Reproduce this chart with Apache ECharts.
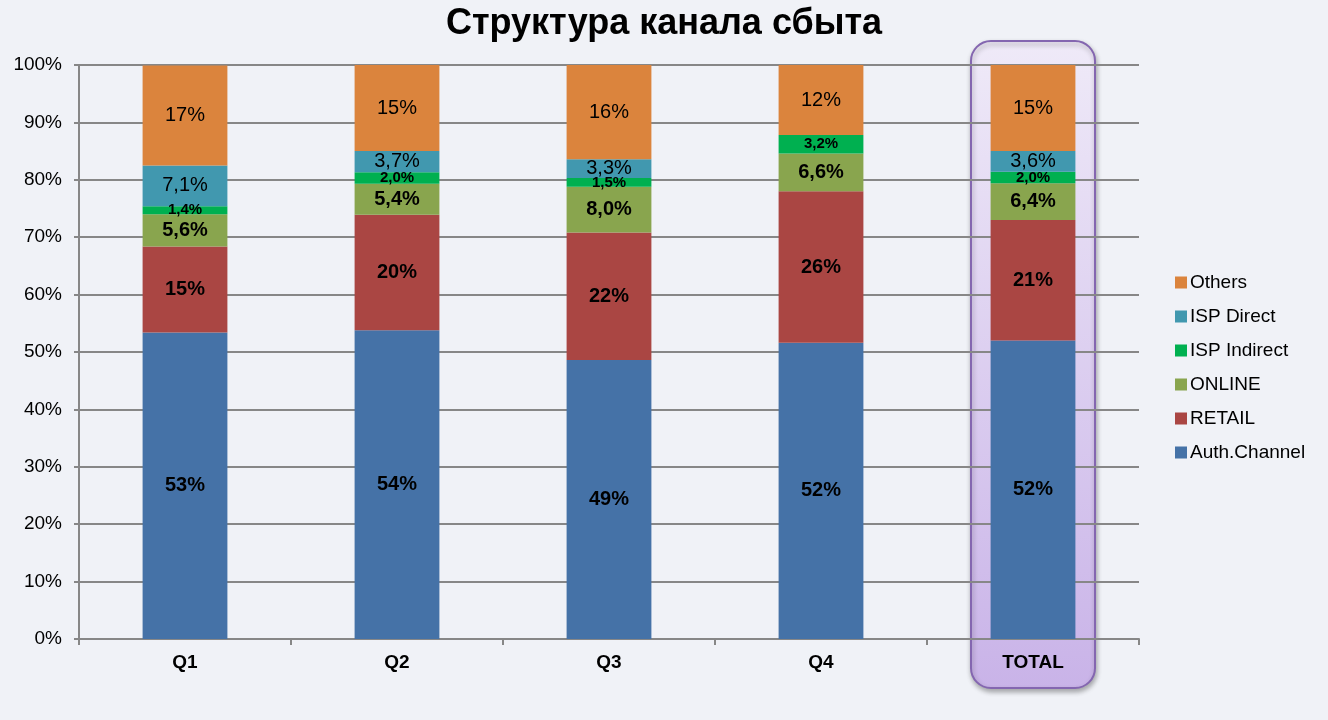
<!DOCTYPE html>
<html>
<head>
<meta charset="utf-8">
<script src="https://cdn.jsdelivr.net/npm/echarts@6/dist/echarts.min.js"></script>
<style>
html,body{margin:0;padding:0;background:#f0f2f7;}
#c{width:1328px;height:720px;}
</style>
</head>
<body>
<div id="c"></div>
<script>
const categories = ['Q1', 'Q2', 'Q3', 'Q4', 'TOTAL'];
const authChannel = [53.4, 53.8, 48.6, 51.6, 52.0];
const retail      = [15.0, 20.1, 22.2, 26.4, 21.0];
const online      = [5.6, 5.4, 8.0, 6.6, 6.4];
const ispIndirect = [1.4, 2.0, 1.5, 3.2, 2.0];
const ispDirect   = [7.1, 3.7, 3.3, 0, 3.6];
const others      = [17.4, 15.0, 16.4, 12.2, 15.0];
const yTicks = [0, 10, 20, 30, 40, 50, 60, 70, 80, 90, 100];

const font = 'Liberation Sans, Arial, sans-serif';
function fmt(p) {
  const v = p.value;
  if (!v) return '';
  if (v >= 10) return Math.round(v) + '%';
  return v.toFixed(1).replace('.', ',') + '%';
}
function mk(name, data, color, size, weight) {
  return {
    name: name, type: 'bar', stack: 'total', data: data, barWidth: '40%',
    itemStyle: { color: color },
    label: { show: true, position: 'inside', formatter: fmt, color: '#000',
      fontFamily: font, fontSize: size, fontWeight: weight },
    emphasis: { disabled: true }
  };
}
const chart = echarts.init(document.getElementById('c'));
const option = {
  backgroundColor: '#f0f2f7',
  animation: false,
  title: {
    text: 'Структура канала сбыта', left: 'center', top: 1,
    textStyle: { fontFamily: font, fontSize: 36, fontWeight: 'bold', color: '#000' }
  },
  legend: {
    orient: 'vertical', left: 1170, top: 268,
    itemWidth: 12, itemHeight: 12, itemGap: 15, icon: 'rect',
    data: ['Others', 'ISP Direct', 'ISP Indirect', 'ONLINE', 'RETAIL', 'Auth.Channel'],
    textStyle: { fontFamily: font, fontSize: 19, color: '#000', padding: [0, 0, 0, -2] }
  },
  grid: { left: 79, right: 189, top: 65, bottom: 81 },
  xAxis: {
    type: 'category', data: categories,
    axisLine: { lineStyle: { color: '#878787', width: 2 } },
    axisTick: { show: true, length: 6, lineStyle: { color: '#878787', width: 2 } },
    axisLabel: { fontFamily: font, fontSize: 19, fontWeight: 'bold', color: '#000', margin: 14 }
  },
  yAxis: {
    type: 'value', min: 0, max: 100, interval: 10,
    axisLine: { show: true, lineStyle: { color: '#878787', width: 2 } },
    axisTick: { show: true, length: 5, lineStyle: { color: '#878787', width: 2 } },
    splitLine: { lineStyle: { color: '#878787', width: 2 } },
    axisLabel: { fontFamily: font, fontSize: 19, color: '#000', margin: 17,
      formatter: function (v) { return yTicks.indexOf(v) >= 0 ? v + '%' : ''; } }
  },
  series: [
    mk('Auth.Channel', authChannel, '#4572a7', 20, 'bold'),
    mk('RETAIL', retail, '#aa4643', 20, 'bold'),
    mk('ONLINE', online, '#89a54e', 20, 'bold'),
    mk('ISP Indirect', ispIndirect, '#00b050', 15, 'bold'),
    mk('ISP Direct', ispDirect, '#4198af', 20, 'normal'),
    mk('Others', others, '#db843d', 20, 'normal')
  ]
};
chart.setOption(option);

const cx = chart.convertToPixel({ xAxisIndex: 0 }, 'TOTAL');
const band = chart.convertToPixel({ xAxisIndex: 0 }, 'Q2') - chart.convertToPixel({ xAxisIndex: 0 }, 'Q1');
const yTop = chart.convertToPixel({ yAxisIndex: 0 }, 100);
const yBot = chart.convertToPixel({ yAxisIndex: 0 }, 0);
const w = band * 0.585;
chart.setOption({
  graphic: [{
    type: 'rect', z: -10,
    shape: { x: cx - w / 2, y: yTop - 24, width: w, height: (yBot + 49) - (yTop - 24), r: 20 },
    style: {
      fill: new echarts.graphic.LinearGradient(0, 0, 0, 1, [
        { offset: 0, color: '#efeaf8' }, { offset: 1, color: '#c9b3e8' }
      ]),
      stroke: '#8466b0', lineWidth: 2,
      shadowBlur: 5, shadowOffsetY: 3, shadowOffsetX: 1, shadowColor: 'rgba(0,0,0,0.3)'
    }
  }]
});
</script>
</body>
</html>
